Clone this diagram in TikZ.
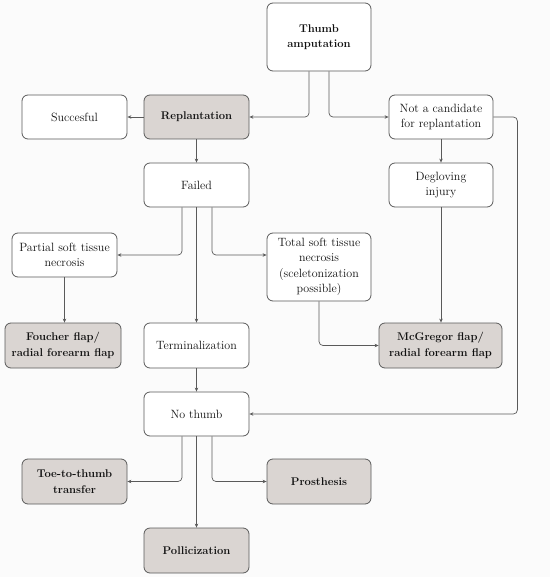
\documentclass[tikz,border=0pt]{standalone}
\usetikzlibrary{arrows.meta}
\definecolor{bg}{HTML}{FBFBFB}
\definecolor{fillg}{HTML}{DAD5D2}
\definecolor{edge}{HTML}{5A5A5A}
\definecolor{txt}{HTML}{111111}
\begin{document}
\begin{tikzpicture}[x=1pt,y=-1pt,
  box/.style={draw=edge, line width=0.8pt, rounded corners=6pt, fill=white, align=center,
    inner sep=0pt, font=\fontsize{12}{15.5}\selectfont, text=txt},
  boldtext/.style={font=\fontsize{11.2}{15.5}\selectfont\bfseries},
  greybox/.style={box, fill=fillg, boldtext},
  conn/.style={draw=edge, line width=0.7pt, rounded corners=4pt, -{Stealth[length=4pt,width=3.5pt]}}]
\fill[bg] (0,0) rectangle (550,577);
\useasboundingbox (0,0) rectangle (550,577);

\node[box, boldtext, minimum width=104pt, minimum height=68pt] (thumb) at (319,37) {Thumb\\amputation};
\node[box, minimum width=105pt, minimum height=44pt] (succ) at (74.5,117) {Succesful};
\node[greybox, minimum width=105pt, minimum height=44pt] (repl) at (196.5,117) {Replantation};
\node[box, minimum width=104pt, minimum height=44pt] (notc) at (441,117) {Not a candidate\\for replantation};
\node[box, minimum width=105pt, minimum height=44pt] (failed) at (196.5,185) {Failed};
\node[box, minimum width=104pt, minimum height=44pt] (degl) at (441,185) {Degloving\\injury};
\node[box, minimum width=105pt, minimum height=44pt] (partial) at (64.5,255) {Partial soft tissue\\necrosis};
\node[box, minimum width=104pt, minimum height=68pt] (total) at (319,267) {Total soft tissue\\necrosis\\(sceletonization\\possible)};
\node[greybox, minimum width=116pt, minimum height=45pt] (foucher) at (63,345.5) {Foucher flap/\\radial forearm flap};
\node[box, minimum width=105pt, minimum height=45pt] (term) at (196.5,345.5) {Terminalization};
\node[greybox, minimum width=123pt, minimum height=45pt] (mcg) at (440.5,345.5) {McGregor flap/\\radial forearm flap};
\node[box, minimum width=105pt, minimum height=44pt] (nothumb) at (196.5,414) {No thumb};
\node[greybox, minimum width=105pt, minimum height=45pt] (toe) at (74.5,481.5) {Toe-to-thumb\\transfer};
\node[greybox, minimum width=104pt, minimum height=45pt] (pros) at (319,481.5) {Prosthesis};
\node[greybox, minimum width=105pt, minimum height=45pt] (poll) at (196.5,550.5) {Pollicization};

\draw[conn] ([xshift=-10pt]thumb.south) |- (repl.east);
\draw[conn] ([xshift=10pt]thumb.south) |- (notc.west);
\draw[conn] (repl.west) -- (succ.east);
\draw[conn] (repl.south) -- (failed.north);
\draw[conn] (notc.south) -- (degl.north);
\draw[conn] (notc.east) -- ++(24,0) |- (nothumb.east);
\draw[conn] ([xshift=-14.5pt]failed.south) |- (partial.east);
\draw[conn] (failed.south) -- (term.north);
\draw[conn] ([xshift=15.5pt]failed.south) |- ([yshift=12pt]total.west);
\draw[conn] (partial.south) -- (partial.south |- foucher.north);
\draw[conn] (total.south) |- (mcg.west);
\draw[conn] (degl.south) -- (degl.south |- mcg.north);
\draw[conn] (term.south) -- (nothumb.north);
\draw[conn] ([xshift=-14.5pt]nothumb.south) |- (toe.east);
\draw[conn] ([xshift=15.5pt]nothumb.south) |- (pros.west);
\draw[conn] (nothumb.south) -- (poll.north);
\end{tikzpicture}
\end{document}
